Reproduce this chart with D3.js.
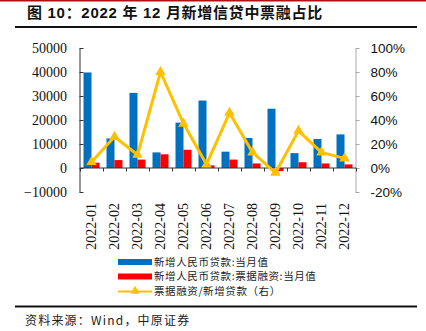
<!DOCTYPE html>
<html>
<head>
<meta charset="utf-8">
<script src="https://cdn.jsdelivr.net/npm/d3@7"></script>
<style>
  body { margin: 0; background: #fff; }
  svg { display: block; }
</style>
</head>
<body>
<div class="chart"></div>
<script>
const months = ["2022-01", "2022-02", "2022-03", "2022-04", "2022-05", "2022-06",
  "2022-07", "2022-08", "2022-09", "2022-10", "2022-11", "2022-12"];
// 新增人民币贷款:当月值 (亿元)
const newLoans = [39800, 12300, 31300, 6500, 18900, 28100, 6800, 12500, 24700, 6200, 12100, 14000];
// 票据融资:当月值 (亿元)
const billFin = [2200, 3300, 3500, 5700, 7600, 1100, 3500, 1900, -1300, 2400, 1900, 1500];
// 票据融资/新增贷款 (%)
const ratio = [5, 26, 11, 80, 37, 3, 46, 13, -4, 31, 13, 8];

const leftTicks = [-10000, 0, 10000, 20000, 30000, 40000, 50000];
const rightTicks = [-20, 0, 20, 40, 60, 80, 100];
const legendNames = ["新增人民币贷款:当月值", "新增人民币贷款:票据融资:当月值", "票据融资/新增贷款（右）"];

const W = 426, H = 331;
const blue = "#0070c0", red = "#ff0000", gold = "#ffc000";
const cjk = "'Noto Sans CJK SC', sans-serif";

const svg = d3.select(".chart").append("svg")
  .attr("width", W).attr("height", H);

svg.append("rect").attr("width", W).attr("height", H).attr("fill", "#fff");

// top red rule, title, rules
svg.append("rect").attr("x", 0).attr("y", 0).attr("width", W).attr("height", 1.5).attr("fill", "#b01010");
svg.append("text")
  .attr("x", 27).attr("y", 18)
  .attr("font-family", "'Liberation Sans', 'Noto Sans CJK SC', sans-serif")
  .attr("font-weight", "bold").attr("font-size", 15).attr("letter-spacing", 0.7).attr("fill", "#111")
  .text("图 10：2022 年 12 月新增信贷中票融占比");
svg.append("rect").attr("x", 15).attr("y", 26).attr("width", 402).attr("height", 2).attr("fill", "#111");
svg.append("rect").attr("x", 15).attr("y", 305.5).attr("width", 402).attr("height", 2).attr("fill", "#111");
svg.append("text")
  .attr("x", 25).attr("y", 325)
  .attr("font-family", cjk).attr("font-size", 12).attr("letter-spacing", 1.2).attr("fill", "#222")
  .text("资料来源：Wind，中原证券");

// scales
const x = d3.scaleBand().domain(months).range([80, 356]).padding(0);
const yL = d3.scaleLinear().domain([-10000, 50000]).range([192, 48]);
const yR = d3.scaleLinear().domain([-20, 100]).range([192, 48]);
const bw = 8;

// left axis
const gL = svg.append("g").attr("transform", "translate(79.5,0)")
  .call(d3.axisLeft(yL).tickValues(leftTicks).tickSize(-4).tickSizeOuter(0).tickPadding(12.5)
    .tickFormat(d3.format("d")));
gL.selectAll("path, line").attr("stroke", "#333");
gL.selectAll("text").attr("font-family", "'Liberation Serif', serif").attr("font-size", 14).attr("fill", "#111");

// right axis
const gR = svg.append("g").attr("transform", "translate(355.5,0)")
  .call(d3.axisRight(yR).tickValues(rightTicks).tickSize(4).tickSizeOuter(0).tickPadding(11)
    .tickFormat(d => d + "%"));
gR.selectAll("path, line").attr("stroke", "#aaa");
gR.selectAll("text").attr("font-family", "'Liberation Sans', sans-serif").attr("font-size", 13.5).attr("fill", "#111");

// bars
svg.append("g").selectAll("rect")
  .data(months)
  .join("rect")
  .attr("x", (d) => x(d) + 3.5)
  .attr("width", bw)
  .attr("y", (d, i) => yL(Math.max(0, newLoans[i])))
  .attr("height", (d, i) => Math.abs(yL(newLoans[i]) - yL(0)))
  .attr("fill", blue);

svg.append("g").selectAll("rect")
  .data(months)
  .join("rect")
  .attr("x", (d) => x(d) + 3.5 + bw)
  .attr("width", bw)
  .attr("y", (d, i) => yL(Math.max(0, billFin[i])))
  .attr("height", (d, i) => Math.abs(yL(billFin[i]) - yL(0)))
  .attr("fill", red);

// x axis at zero with boundary ticks
const gX = svg.append("g").attr("transform", `translate(0,${yL(0)})`);
gX.append("line").attr("x1", 80).attr("x2", 356).attr("stroke", "#333");
gX.selectAll(".tk")
  .data(d3.range(months.length + 1))
  .join("line")
  .attr("class", "tk")
  .attr("x1", (i) => 80 + i * x.step() + 0.5)
  .attr("x2", (i) => 80 + i * x.step() + 0.5)
  .attr("y1", 0).attr("y2", 3.5)
  .attr("stroke", "#333");

// ratio line
const cx = (d) => x(d) + x.bandwidth() / 2;
const line = d3.line()
  .x((d, i) => cx(months[i]))
  .y((d) => yR(d));
svg.append("path")
  .datum(ratio)
  .attr("d", line)
  .attr("fill", "none")
  .attr("stroke", gold)
  .attr("stroke-width", 3)
  .attr("stroke-linejoin", "round");

const tri = d3.symbol().type(d3.symbolTriangle).size(48);
svg.append("g").selectAll("path")
  .data(ratio)
  .join("path")
  .attr("transform", (d, i) => `translate(${cx(months[i])},${yR(d)})`)
  .attr("d", tri)
  .attr("fill", gold);

// x labels
const gXL = svg.append("g").attr("transform", "translate(0,196)")
  .call(d3.axisBottom(x).tickSize(0).tickPadding(0));
gXL.select(".domain").remove();
gXL.selectAll("text")
  .attr("font-family", "'Liberation Serif', serif").attr("font-size", 14).attr("fill", "#111")
  .attr("text-anchor", "end")
  .attr("transform", "rotate(-90)")
  .attr("x", -7).attr("y", 0).attr("dy", "0.35em");

// legend
const lg = svg.append("g").attr("font-family", cjk).attr("font-size", 10.5).attr("fill", "#222");
const rowY = [262, 276.5, 291.5];
lg.append("rect").attr("x", 118).attr("y", rowY[0] - 3).attr("width", 34).attr("height", 6).attr("fill", blue);
lg.append("rect").attr("x", 118).attr("y", rowY[1] - 3).attr("width", 34).attr("height", 6).attr("fill", red);
lg.append("line").attr("x1", 118).attr("x2", 152).attr("y1", rowY[2]).attr("y2", rowY[2])
  .attr("stroke", gold).attr("stroke-width", 2);
lg.append("path").attr("transform", `translate(135,${rowY[2] - 0.5})`)
  .attr("d", d3.symbol().type(d3.symbolTriangle).size(36)).attr("fill", gold);
lg.selectAll("text")
  .data(legendNames)
  .join("text")
  .attr("x", 154)
  .attr("y", (d, i) => rowY[i])
  .attr("dy", "0.36em")
  .attr("letter-spacing", 0.6)
  .text((d) => d);
</script>
</body>
</html>
